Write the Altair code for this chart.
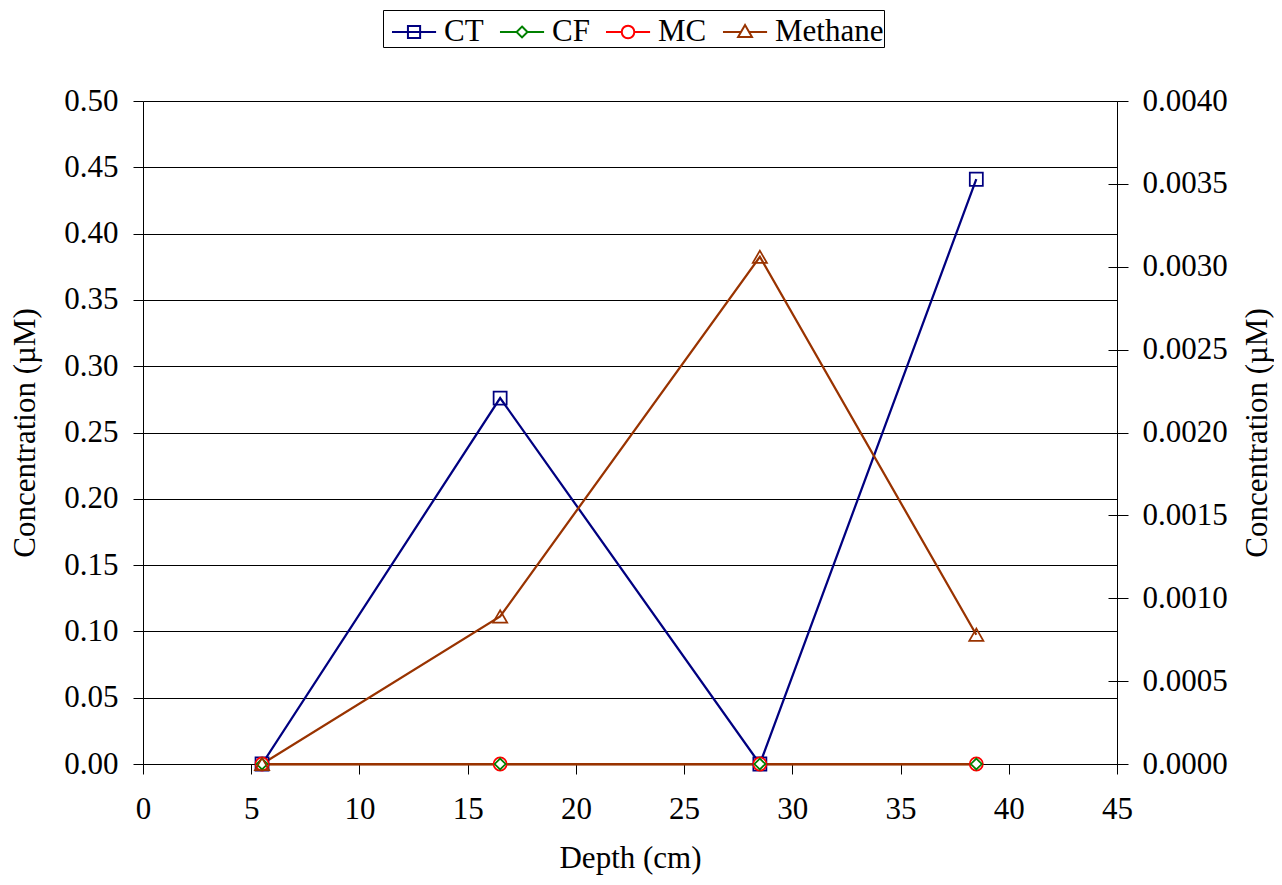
import altair as alt
import pandas as pd

# ---- data ----
depth = [5.5, 16.5, 28.5, 38.5]
ct = [0.0, 0.276, 0.0, 0.441]
cf = [0.0, 0.0, 0.0, 0.0]
mc = [0.0, 0.0, 0.0, 0.0]
methane = [0.0, 0.00089, 0.00306, 0.00078]

series_names = ["CT", "CF", "MC", "Methane"]
series_colors = ["#000080", "#008000", "#FF0000", "#993300"]
COL = dict(zip(series_names, series_colors))

x_ticks = [0, 5, 10, 15, 20, 25, 30, 35, 40, 45]
left_ticks = [0.00, 0.05, 0.10, 0.15, 0.20, 0.25, 0.30, 0.35, 0.40, 0.45, 0.50]
right_ticks = [0.0000, 0.0005, 0.0010, 0.0015, 0.0020, 0.0025, 0.0030, 0.0035, 0.0040]

rows = []
for name, vals in zip(series_names, [ct, cf, mc, methane]):
    for d, v in zip(depth, vals):
        rows.append({"series": name, "depth": d, "value": v})
df = pd.DataFrame(rows)

FONT = "Liberation Serif"
FS = 31

# legend symbols: line + marker (custom SVG paths, unit = sqrt(symbolSize)/2)
legend_paths = [
    "M-0.62,0L1.48,0M0.14,-0.29L0.72,-0.29L0.72,0.29L0.14,0.29Z",
    "M-0.62,0L0.17,0M0.69,0L1.48,0M0.43,-0.26L0.69,0L0.43,0.26L0.17,0Z",
    "M-0.62,0L0.13,0M0.73,0L1.48,0M0.13,0A0.3,0.3,0,1,0,0.73,0A0.3,0.3,0,1,0,0.13,0Z",
    "M-0.62,0L0.24,0M0.62,0L1.48,0M0.43,-0.33L0.76,0.24L0.1,0.24Z",
]

color_scale = alt.Scale(domain=series_names, range=series_colors)
x_scale = alt.Scale(domain=[0, 45], nice=False, zero=False)
left_scale = alt.Scale(domain=[0, 0.5], nice=False, zero=False)
right_scale = alt.Scale(domain=[0, 0.004], nice=False, zero=False)

x_axis = alt.Axis(values=x_ticks, format="d", title="Depth (cm)", tickSize=10,
                  labelPadding=20, titlePadding=19, grid=False, labelFlush=False,
                  labelFont=FONT, titleFont=FONT)
left_axis = alt.Axis(orient="left", values=left_ticks, format=".2f",
                     title="Concentration (µM)", grid=True, gridColor="black",
                     gridWidth=1, tickSize=10, labelPadding=15, titlePadding=22,
                     labelFont=FONT, titleFont=FONT)
right_axis = alt.Axis(orient="right", values=right_ticks, format=".4f",
                      title="Concentration (µM)", grid=False, tickSize=11,
                      labelPadding=14, titlePadding=15, titleAngle=270,
                      titleBaseline="top", labelFont=FONT, titleFont=FONT)
right_inner = alt.Axis(orient="right", values=right_ticks, offset=-9, tickSize=9,
                       labels=False, domain=False, title=None, grid=False)

x_main = alt.X("depth:Q", scale=x_scale, axis=x_axis)

base = alt.Chart(df)
LW = 2.25


def sel(name):
    return base.transform_filter(alt.datum.series == name)


def line_layer(name, scale, axis):
    return sel(name).mark_line(strokeWidth=LW, color=COL[name]).encode(
        x=x_main, y=alt.Y("value:Q", scale=scale, axis=axis)
    )


def pts_layer(name, scale, axis, shape, size, fill=None):
    kw = dict(shape=shape, size=size, filled=False, strokeWidth=1.75,
              stroke=COL[name], opacity=1)
    if fill is not None:
        kw["fill"] = fill
    return sel(name).mark_point(**kw).encode(
        x=x_main, y=alt.Y("value:Q", scale=scale, axis=axis)
    )


line_ct = line_layer("CT", left_scale, left_axis)
line_cf = line_layer("CF", left_scale, None)
line_mc = line_layer("MC", left_scale, None)

baseline = sel("Methane").transform_aggregate(
    dmin="min(depth)", dmax="max(depth)"
).mark_rule(color=COL["Methane"], strokeWidth=LW).encode(
    x=alt.X("dmin:Q", scale=x_scale, axis=x_axis),
    x2="dmax:Q",
    y=alt.Y(datum=0, type="quantitative", scale=right_scale, axis=None),
)

line_me = line_layer("Methane", right_scale, right_axis)

pts_ct = pts_layer("CT", left_scale, None, "square", 170)
pts_mc = pts_layer("MC", left_scale, None, "circle", 170, "white")
pts_cf = pts_layer("CF", left_scale, None, "diamond", 120, "white")
pts_me = pts_layer("Methane", right_scale, right_inner, "triangle-up", 200)

leg = alt.Legend(
    orient="none", legendX=240, legendY=-91, direction="horizontal", columns=4,
    title=None, symbolSize=1764, symbolStrokeWidth=2, labelFont=FONT,
    labelFontSize=FS, labelColor="black", labelOffset=17, columnPadding=7,
    padding=0, strokeColor="black", labelLimit=400,
)
legend_layer = base.transform_filter("false").mark_point(
    filled=False, strokeWidth=2, opacity=1
).encode(
    color=alt.Color("series:N", scale=color_scale, legend=leg),
    shape=alt.Shape("series:N", scale=alt.Scale(domain=series_names, range=legend_paths), legend=leg),
)

chart = alt.layer(
    line_ct, line_cf, line_mc, baseline, line_me,
    pts_ct, pts_mc, pts_cf, pts_me, legend_layer
).resolve_scale(
    y="independent"
).properties(
    width=974, height=663,
    autosize=alt.AutoSizeParams(type="none"),
    padding={"left": 135, "top": 93, "right": 157, "bottom": 113},
).configure(
    font=FONT
).configure_view(
    stroke=None
).configure_axis(
    labelFont=FONT, labelFontSize=FS, titleFont=FONT, titleFontSize=FS,
    titleFontWeight="normal", labelColor="black", titleColor="black",
    domainColor="black", tickColor="black", domainWidth=1, tickWidth=1,
)

chart.save("out.html", embed_options={"renderer": "svg", "actions": False})
